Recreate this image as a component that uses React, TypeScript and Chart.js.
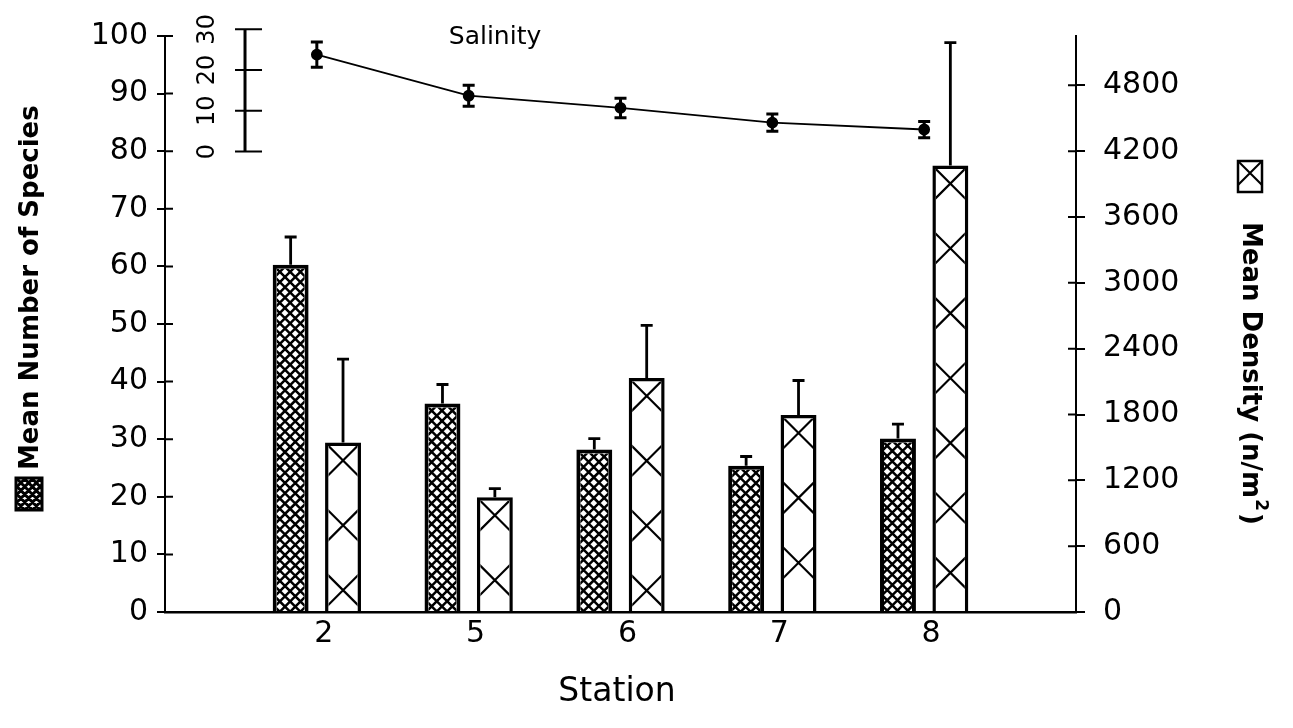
import React, { useEffect, useRef } from "react";
import { Chart, registerables } from "chart.js";

Chart.register(...registerables);

// ---- data ----
const stations = ["2", "5", "6", "7", "8"];
const speciesMean = [60.3, 36.2, 28.2, 25.4, 30.1];
const speciesErr = [4.8, 3.3, 1.9, 1.6, 2.5];
const densityMean = [1545, 1045, 2133, 1795, 4069];
const densityErr = [760, 80, 480, 315, 1120];
const salinityMean = [23.8, 13.7, 10.7, 7.1, 5.4];
const salinityErr = [3.1, 2.6, 2.4, 2.1, 2.0];
const speciesTicks = [0, 10, 20, 30, 40, 50, 60, 70, 80, 90, 100];
const densityTicks = [0, 600, 1200, 1800, 2400, 3000, 3600, 4200, 4800];
const salinityTicks = [0, 10, 20, 30];

const FONT = "'DejaVu Sans', 'Liberation Sans', sans-serif";
const labels = ["", ...stations, ""];
const pad = (arr: number[]) => [null, ...arr, null];

function drawHatch(
  ctx: CanvasRenderingContext2D,
  cx: number, cy: number, cw: number, ch: number,
  ax: number, ay: number, aw: number,
  dense: boolean, lw: number
) {
  if (cw <= 0 || ch <= 0) return;
  ctx.save();
  ctx.beginPath();
  ctx.rect(cx, cy, cw, ch);
  ctx.clip();
  ctx.strokeStyle = "#000";
  ctx.lineWidth = lw;
  ctx.beginPath();
  const L = ch + aw + 40;
  const P = dense ? aw / 3.1 : aw * 2;
  const oA = 0;
  const oB = dense ? 0 : aw;
  for (let c = oA - Math.ceil(L / P) * P; c <= aw + P; c += P) {
    ctx.moveTo(ax + c, ay);
    ctx.lineTo(ax + c + L, ay + L);
  }
  for (let c = oB - P; c <= aw + L + P; c += P) {
    ctx.moveTo(ax + c, ay);
    ctx.lineTo(ax + c - L, ay + L);
  }
  ctx.stroke();
  ctx.restore();
}

const decorPlugin = {
  id: "decor",
  afterDatasetsDraw(chart: any) {
    const ctx: CanvasRenderingContext2D = chart.ctx;
    const sets = [
      { idx: 0, dense: true, lw: 2.5, err: speciesErr, mean: speciesMean, scale: chart.scales.y },
      { idx: 1, dense: false, lw: 2.2, err: densityErr, mean: densityMean, scale: chart.scales.y2 },
    ];
    sets.forEach((s) => {
      const meta = chart.getDatasetMeta(s.idx);
      const bw = chart.data.datasets[s.idx].borderWidth;
      meta.data.forEach((el: any, i: number) => {
        const si = i - 1;
        if (si < 0 || si >= stations.length) return;
        const p = el.getProps(["x", "y", "base", "width"], true);
        const left = p.x - p.width / 2;
        const top = p.y;
        const h = p.base - p.y;
        drawHatch(ctx, left + bw, top + bw, p.width - 2 * bw, h - bw,
          left + bw / 2, top + bw / 2, p.width - bw, s.dense, s.lw);
        const yTop = s.scale.getPixelForValue(s.mean[si] + s.err[si]);
        ctx.save();
        ctx.strokeStyle = "#000";
        ctx.lineWidth = 2.8;
        ctx.beginPath();
        ctx.moveTo(p.x, top);
        ctx.lineTo(p.x, yTop);
        ctx.moveTo(p.x - 6, yTop);
        ctx.lineTo(p.x + 6, yTop);
        ctx.stroke();
        ctx.restore();
      });
    });
    const sMeta = chart.getDatasetMeta(2);
    const ys = chart.scales.ySal;
    sMeta.data.forEach((el: any, i: number) => {
      const si = i - 1;
      if (si < 0 || si >= stations.length) return;
      const x = el.x;
      const y1 = ys.getPixelForValue(salinityMean[si] - salinityErr[si]);
      const y2 = ys.getPixelForValue(salinityMean[si] + salinityErr[si]);
      ctx.save();
      ctx.strokeStyle = "#000";
      ctx.lineWidth = 3;
      ctx.beginPath();
      ctx.moveTo(x, y1);
      ctx.lineTo(x, y2);
      ctx.moveTo(x - 6, y1);
      ctx.lineTo(x + 6, y1);
      ctx.moveTo(x - 6, y2);
      ctx.lineTo(x + 6, y2);
      ctx.stroke();
      ctx.restore();
    });
  },
  afterDraw(chart: any) {
    const ctx: CanvasRenderingContext2D = chart.ctx;
    const { left, right } = chart.chartArea;
    const yL = chart.scales.y;
    const yR = chart.scales.y2;
    const ys = chart.scales.ySal;
    const xs = chart.scales.x;
    ctx.save();
    ctx.strokeStyle = "#000";
    ctx.fillStyle = "#000";
    ctx.lineWidth = 2;
    ctx.beginPath();
    speciesTicks.forEach((v) => {
      const y = yL.getPixelForValue(v);
      ctx.moveTo(left, y);
      ctx.lineTo(left + 8, y);
    });
    densityTicks.forEach((v) => {
      const y = yR.getPixelForValue(v);
      ctx.moveTo(right, y);
      ctx.lineTo(right - 8, y);
    });
    ctx.stroke();

    // salinity inset axis
    const ax = xs.getPixelForValue(0) + 0.527 * (xs.getPixelForValue(1) - xs.getPixelForValue(0));
    ctx.lineWidth = 3;
    ctx.beginPath();
    ctx.moveTo(ax, ys.getPixelForValue(salinityTicks[0]));
    ctx.lineTo(ax, ys.getPixelForValue(salinityTicks[salinityTicks.length - 1]));
    ctx.stroke();
    ctx.lineWidth = 2;
    ctx.beginPath();
    salinityTicks.forEach((v) => {
      const y = ys.getPixelForValue(v);
      ctx.moveTo(ax - 10, y);
      ctx.lineTo(ax + 17, y);
    });
    ctx.stroke();
    ctx.font = `24px ${FONT}`;
    ctx.textAlign = "center";
    ctx.textBaseline = "middle";
    salinityTicks.forEach((v) => {
      const y = ys.getPixelForValue(v);
      ctx.save();
      ctx.translate(ax - 37, y);
      ctx.rotate(-Math.PI / 2);
      ctx.fillText(String(v), 0, 0);
      ctx.restore();
    });
    ctx.font = `25px ${FONT}`;
    ctx.fillText("Salinity", 495, 37);

    // left title + swatch
    ctx.font = `bold 26px ${FONT}`;
    ctx.textAlign = "left";
    ctx.save();
    ctx.translate(31, 470);
    ctx.rotate(-Math.PI / 2);
    ctx.fillText("Mean Number of Species", 0, 0);
    ctx.restore();
    ctx.lineWidth = 3;
    ctx.fillStyle = "#fff";
    ctx.fillRect(16, 478, 26, 32);
    ctx.strokeStyle = "#000";
    ctx.strokeRect(16, 478, 26, 32);
    drawHatch(ctx, 17, 479, 24, 30, 17, 479, 24, true, 3);

    // right title + swatch
    ctx.fillStyle = "#000";
    ctx.save();
    ctx.translate(1250, 222);
    ctx.rotate(Math.PI / 2);
    const t1 = "Mean Density (n/m";
    ctx.fillText(t1, 0, 0);
    const w1 = ctx.measureText(t1).width;
    ctx.font = `bold 17px ${FONT}`;
    ctx.fillText("2", w1 + 1, -10);
    const w2 = ctx.measureText("2").width;
    ctx.font = `bold 26px ${FONT}`;
    ctx.fillText(")", w1 + w2 + 3, 0);
    ctx.restore();
    ctx.lineWidth = 2.5;
    ctx.strokeRect(1238, 161, 24, 31);
    drawHatch(ctx, 1239, 162, 22, 29, 1239, 162, 22, false, 2);

    // x title
    ctx.font = `33px ${FONT}`;
    ctx.textAlign = "center";
    ctx.textBaseline = "middle";
    ctx.fillStyle = "#000";
    ctx.fillText("Station", 617, 692);
    ctx.restore();
  },
};

export default function App() {
  const ref = useRef<HTMLCanvasElement>(null);
  useEffect(() => {
    Chart.defaults.font.family = FONT;
    Chart.defaults.color = "#000";
    const plain = (v: any) => String(v);
    const chart = new Chart(ref.current!, {
      type: "bar",
      data: {
        labels,
        datasets: [
          {
            type: "bar",
            label: "Mean Number of Species",
            data: pad(speciesMean),
            yAxisID: "y",
            backgroundColor: "#fff",
            borderColor: "#000",
            borderWidth: 4,
            categoryPercentage: 0.69,
            barPercentage: 0.686,
          },
          {
            type: "bar",
            label: "Mean Density (n/m²)",
            data: pad(densityMean),
            yAxisID: "y2",
            backgroundColor: "#fff",
            borderColor: "#000",
            borderWidth: 3.5,
            categoryPercentage: 0.69,
            barPercentage: 0.686,
          },
          {
            type: "line",
            label: "Salinity",
            data: pad(salinityMean),
            yAxisID: "ySal",
            borderColor: "#000",
            borderWidth: 1.8,
            pointRadius: 5,
            pointBackgroundColor: "#000",
            pointBorderColor: "#000",
            tension: 0,
          },
        ] as any,
      },
      options: {
        animation: false,
        responsive: true,
        maintainAspectRatio: false,
        layout: { padding: { top: 30, left: 0, right: 0, bottom: 0 } },
        plugins: { legend: { display: false }, tooltip: { enabled: false } },
        scales: {
          x: {
            type: "category",
            offset: false,
            z: 1,
            grid: { display: false, drawTicks: false },
            border: { display: true, color: "#000", width: 2.5 },
            ticks: {
              font: { size: 30, family: FONT },
              color: "#000",
              padding: 4,
              labelOffset: 7,
              autoSkip: false,
              maxRotation: 0,
            },
            afterFit: (s: any) => { s.height = 116; },
          },
          y: {
            position: "left",
            min: 0,
            max: 100,
            afterBuildTicks: (s: any) => { s.ticks = speciesTicks.map((v) => ({ value: v })); },
            ticks: { font: { size: 30, family: FONT }, color: "#000", padding: 9, callback: plain },
            grid: { drawOnChartArea: false, drawTicks: true, tickLength: 8, color: "#000", lineWidth: 2 },
            border: { display: true, color: "#000", width: 2 },
            afterFit: (s: any) => { s.width = 165; },
          },
          y2: {
            position: "right",
            min: 0,
            max: 5250,
            afterBuildTicks: (s: any) => { s.ticks = densityTicks.map((v) => ({ value: v })); },
            ticks: { font: { size: 30, family: FONT }, color: "#000", padding: 18, callback: plain },
            grid: { drawOnChartArea: false, drawTicks: true, tickLength: 9, color: "#000", lineWidth: 2 },
            border: { display: true, color: "#000", width: 2 },
            afterFit: (s: any) => { s.width = 217; },
          },
          ySal: {
            display: false,
            position: "left",
            min: -113.1,
            max: 28.37,
          },
        },
      } as any,
      plugins: [decorPlugin],
    });
    return () => chart.destroy();
  }, []);
  return (
    <div style={{ position: "fixed", left: 0, top: 0, width: 1293, height: 728, background: "#fff" }}>
      <canvas ref={ref} />
    </div>
  );
}
